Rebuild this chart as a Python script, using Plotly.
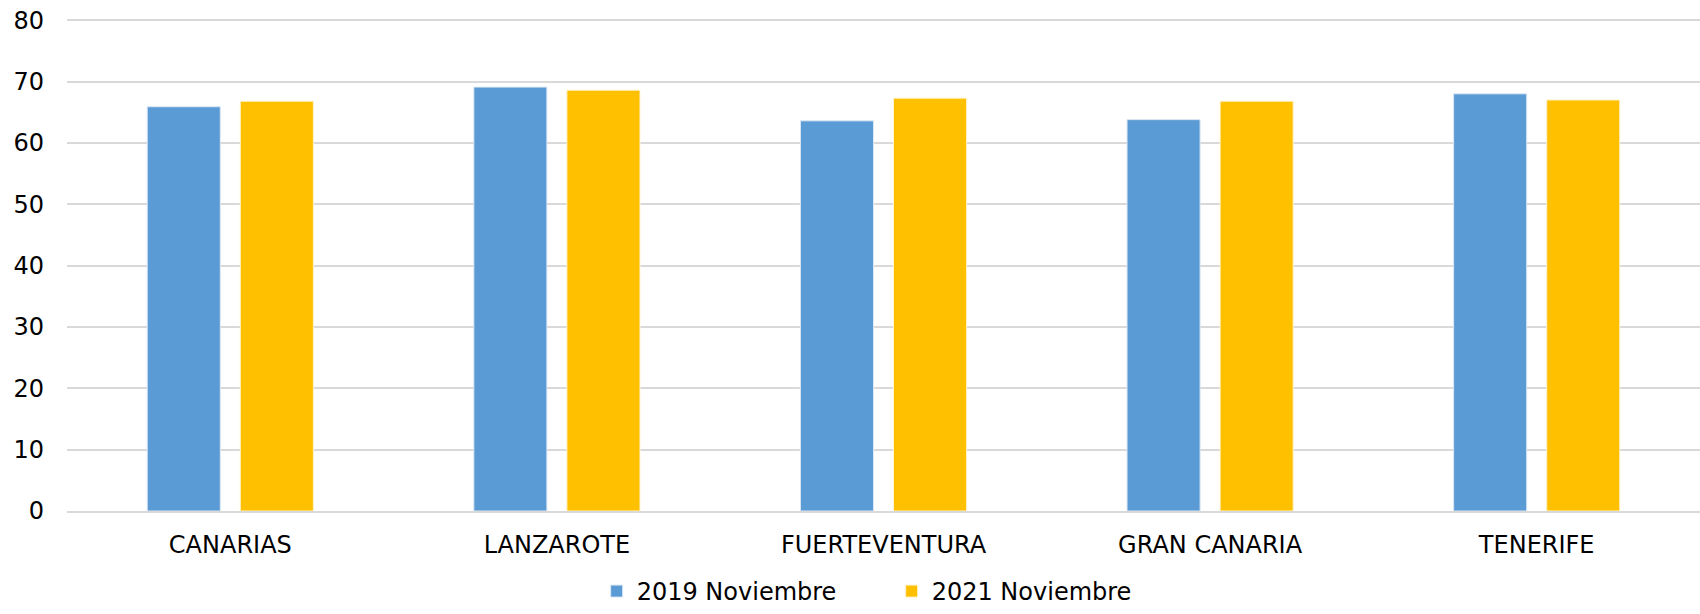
import plotly.graph_objects as go

categories = ["CANARIAS", "LANZAROTE", "FUERTEVENTURA", "GRAN CANARIA", "TENERIFE"]
series_2019 = [65.9, 69.1, 63.6, 63.8, 68.0]
series_2021 = [66.8, 68.6, 67.3, 66.8, 67.0]
y_ticks = [0, 10, 20, 30, 40, 50, 60, 70, 80]

font_family = "DejaVu Sans, Lato, sans-serif"

fig = go.Figure()
fig.add_trace(go.Bar(name="2019 Noviembre", x=categories, y=series_2019,
                     marker=dict(color="#5B9BD5", line=dict(color="#dbe7f5", width=1))))
fig.add_trace(go.Bar(name="2021 Noviembre", x=categories, y=series_2021,
                     marker=dict(color="#FFC000", line=dict(color="#fff2cc", width=1))))

fig.update_layout(
    width=1700, height=614,
    barmode="group", bargap=0.43, bargroupgap=0.215,
    plot_bgcolor="white", paper_bgcolor="white",
    margin=dict(l=67, r=0, t=19, b=103, autoexpand=False),
    font=dict(family=font_family, size=24, color="#000000"),
    legend=dict(orientation="h", x=0.505, xanchor="center",
                yref="container", y=-0.008, yanchor="bottom",
                font=dict(size=24), itemwidth=30, entrywidth=250, traceorder="normal"),
    xaxis=dict(showgrid=False, showline=True, linecolor="#d9d9d9", linewidth=1.5,
               ticks="", ticklabelstandoff=11, tickfont=dict(size=24), automargin=False),
    yaxis=dict(range=[0, 80.2], tickvals=y_ticks, showgrid=True, gridcolor="#d9d9d9",
               gridwidth=1.5, zeroline=False, showline=False, ticks="",
               ticklabelstandoff=22, tickfont=dict(size=24), automargin=False),
)

fig.write_html("out.html", config={"displayModeBar": False},
               post_script="document.body.style.margin='0';document.body.style.overflow='hidden';")
